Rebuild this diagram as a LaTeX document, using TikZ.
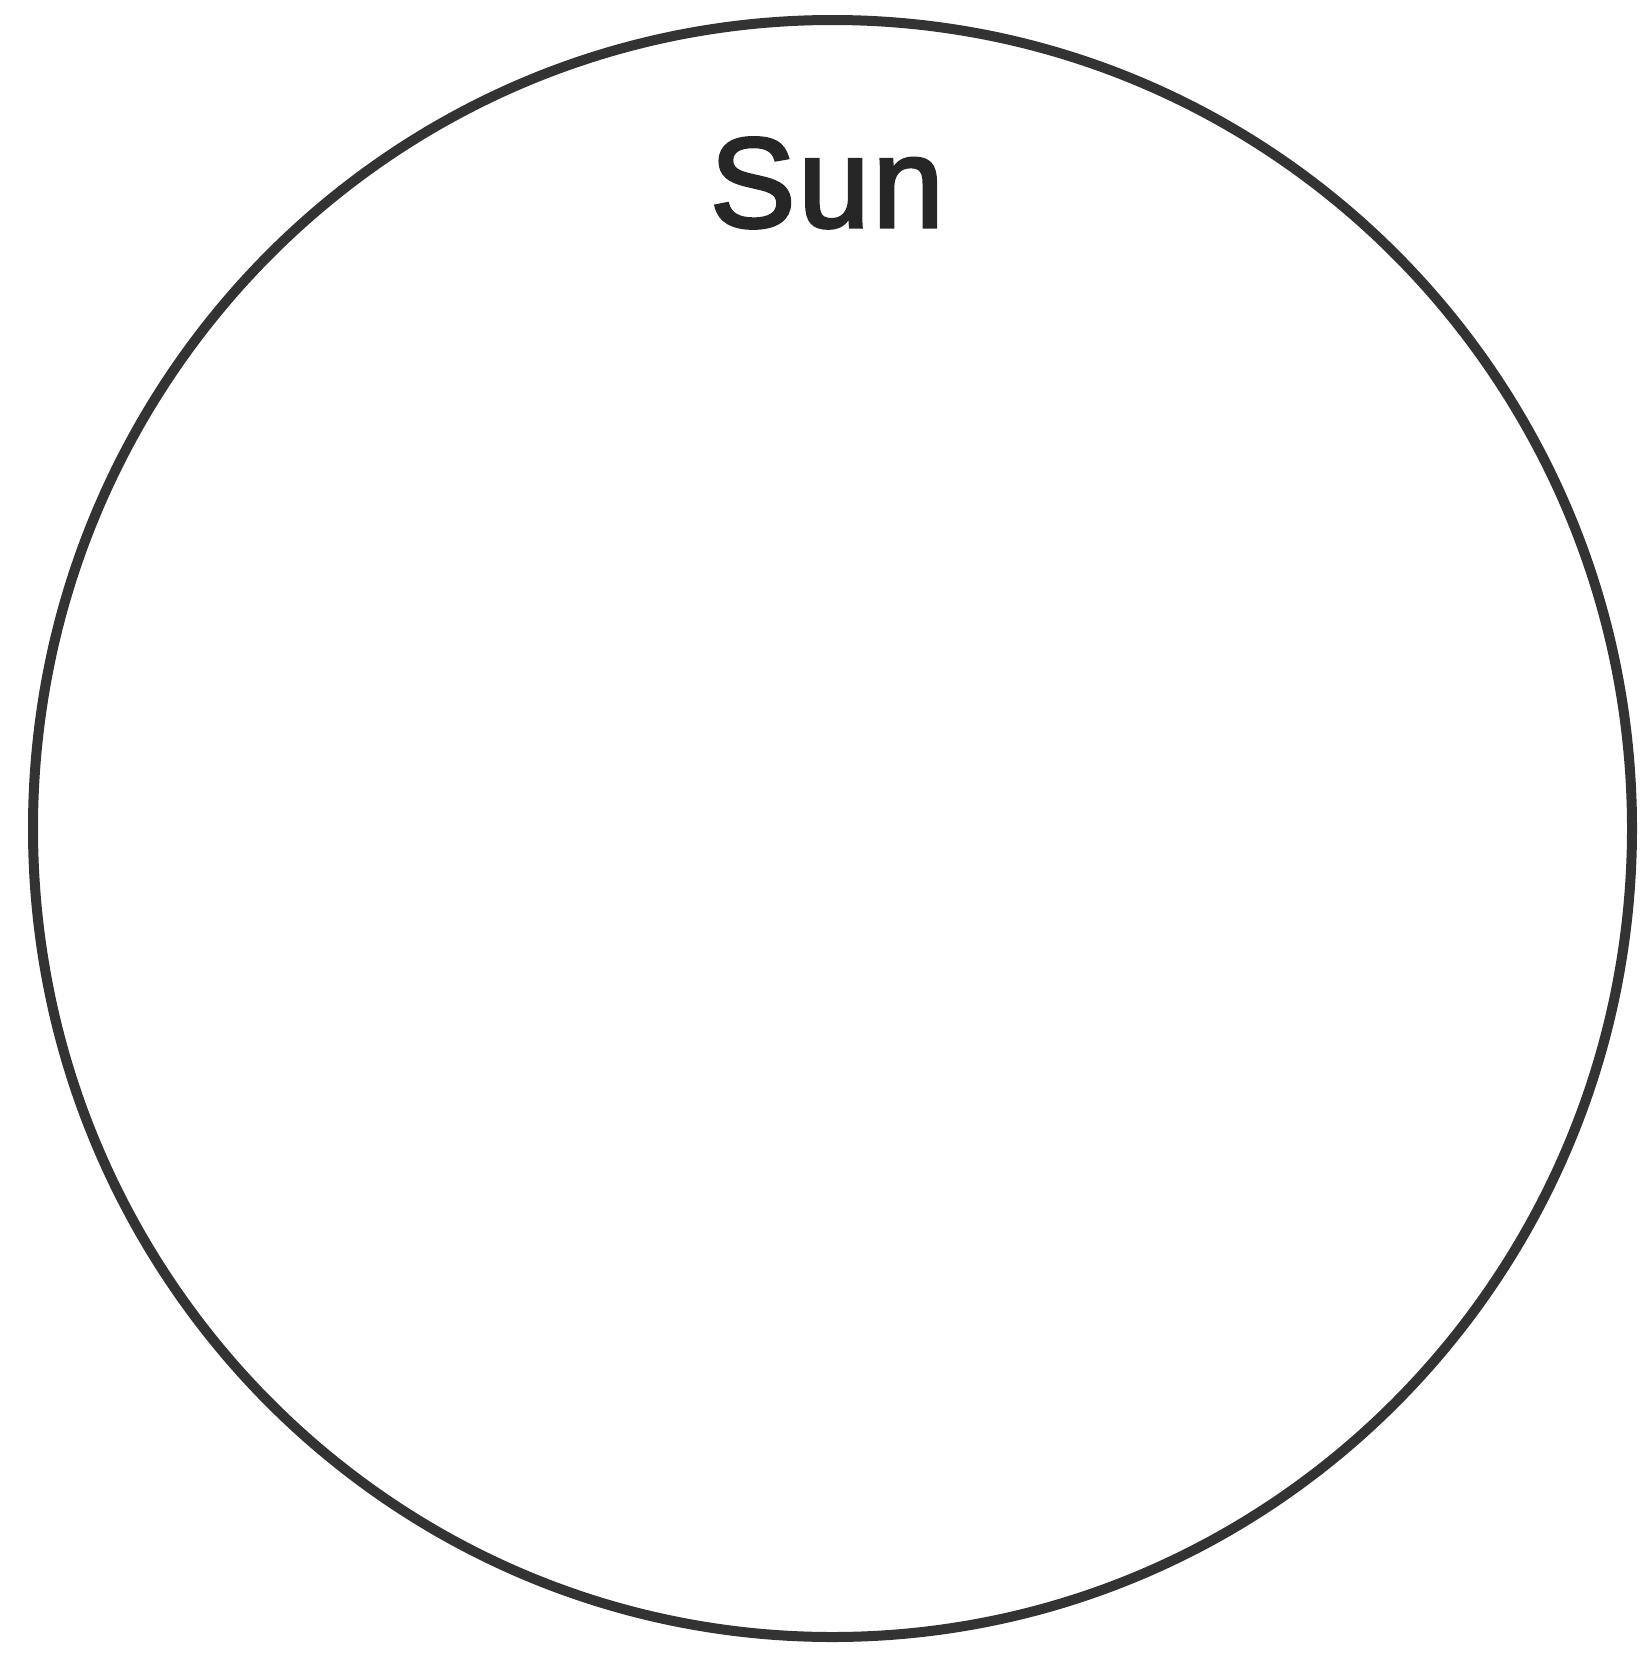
\documentclass[tikz,border=0pt]{standalone}
\usepackage{fontspec}
\setmainfont{Liberation Sans}
\usetikzlibrary{shapes.geometric}
\newfontfamily\sunfont[FakeBold=2.5]{Liberation Sans}
\begin{document}
\begin{tikzpicture}[x=1pt,y=-1pt,
  sunring/.style={draw=black!80,line width=10pt},
  sunlabel/.style={font=\sunfont\fontsize{128}{150}\selectfont,text=black!85,inner sep=0pt}]
\useasboundingbox (0,0) rectangle (1639,1657);
\node[sunring,ellipse,minimum width=1599pt,minimum height=1617pt,inner sep=0pt] (sun) at (832.5,828.5) {};
\node[sunlabel,anchor=base] (sunlbl) at (827,227) {S\kern3ptu\kern3ptn};
\end{tikzpicture}
\end{document}
